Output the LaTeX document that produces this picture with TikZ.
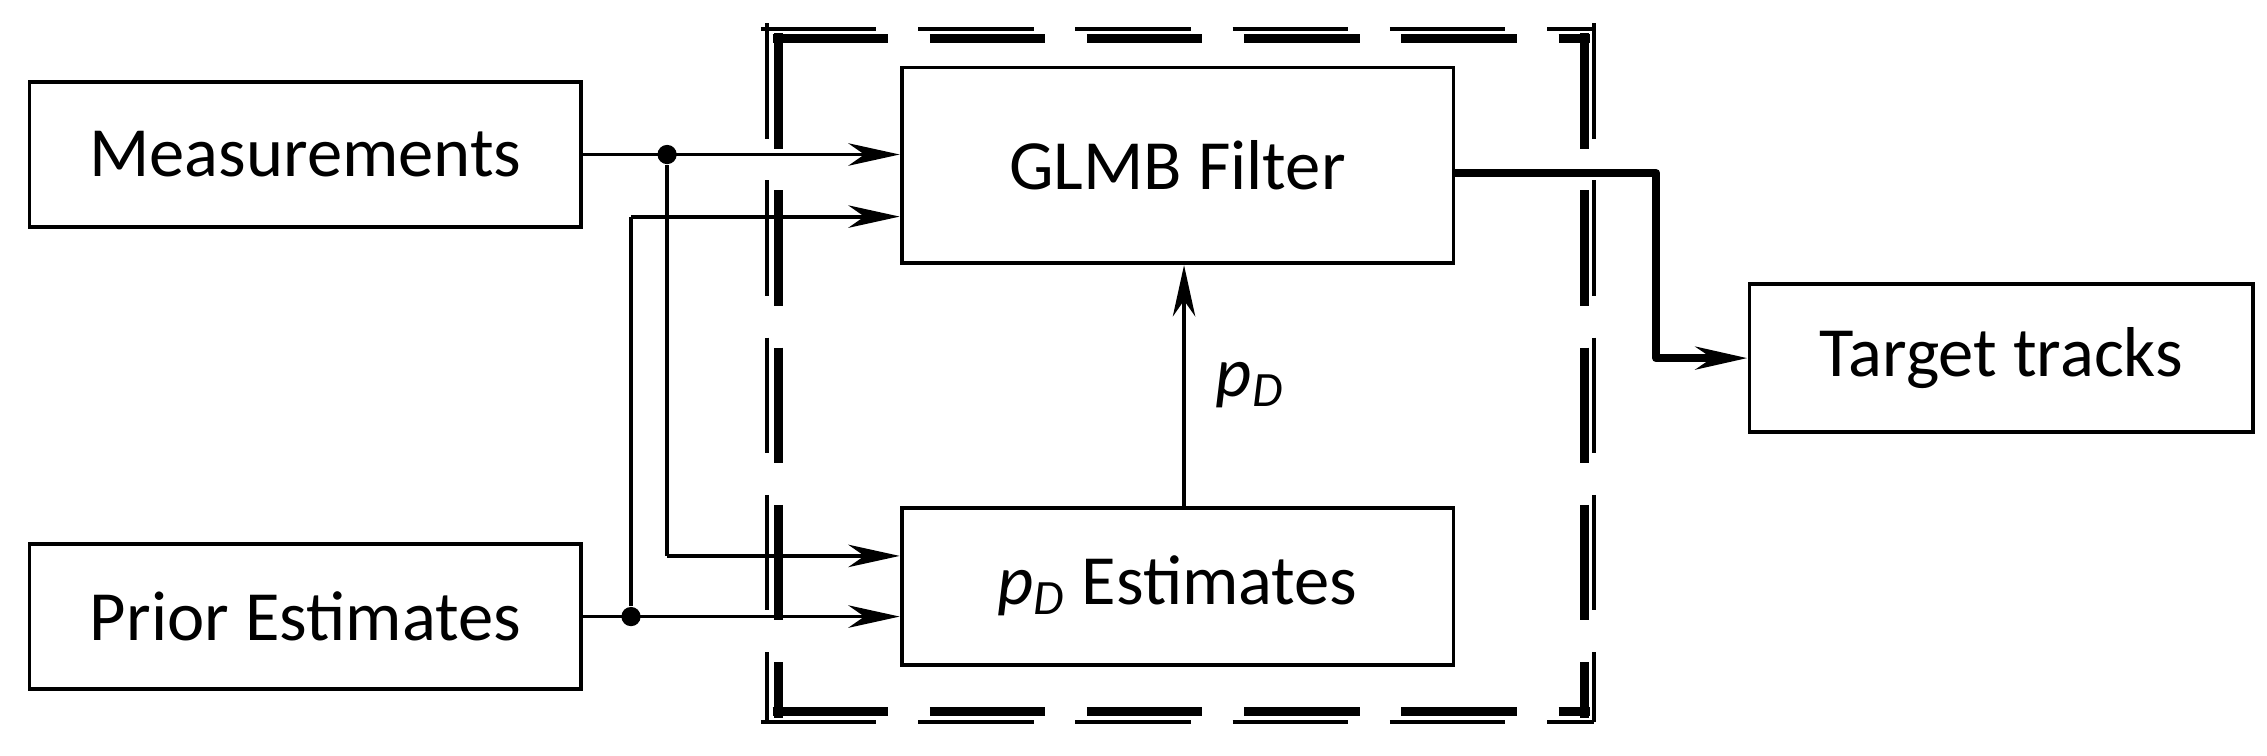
\documentclass[tikz,border=0pt]{standalone}
\usepackage{fontspec}
\setmainfont{Carlito}
\usetikzlibrary{arrows.meta}
\begin{document}
\begin{tikzpicture}[x=0.45pt,y=-0.45pt,
  box/.style={draw,line width=1.2pt,minimum width=172pt,inner sep=0pt,font=\fontsize{22}{25}\selectfont},
  ar/.style={line width=1.2pt,-{Stealth[length=16pt,width=7pt,inset=5pt]}},
  dot/.style={circle,fill,inner sep=0pt,minimum size=6pt},
  thk/.style={line width=2.8pt,dash pattern=on 36pt off 13pt},
  thn/.style={line width=1.2pt,dash pattern=on 36pt off 13pt}]
\useasboundingbox (0,0) rectangle (1570,523);
% frame, side by side so that thick and thin dashes line up
\draw[thk] (535,27) -- (1101,27);
\draw[thn] (527,20) -- (1104,20);
\draw[thk] (539,23) -- (539,497);
\draw[thn] (531,16) -- (531,500);
\draw[thk] (1097,23) -- (1097,497);
\draw[thn] (1104,16) -- (1104,500);
\draw[thk] (535,493) -- (1101,493);
\draw[thn] (527,500) -- (1104,500);
\node[box,minimum height=45pt] (meas) at (211.5,107) {Measurements};
\node[box,minimum height=45pt] (prior) at (211.5,427) {Prior Estimates};
\node[box,minimum height=61pt] (glmb) at (815.5,114.5) {GLMB Filter};
\node[box,minimum height=49pt] (pde) at (815.5,406) {$\mathit{p_D}$ Estimates};
\node[box,minimum width=157pt,minimum height=46pt] (tt) at (1386,248) {Target tracks};
\node[dot] (d1) at (462,107) {};
\node[dot] (d2) at (437,427) {};
\coordinate (c1) at (437,150);
\coordinate (c2) at (462,385);
\draw[ar] (meas.east) -- (glmb.west|-meas.east);
\draw[ar] (c1) -- (glmb.west|-c1);
\draw[line width=1.2pt] (d2) -- (c1);
\draw[line width=1.2pt] (d1) -- (c2);
\draw[ar] (c2) -- (pde.west|-c2);
\draw[ar] (prior.east) -- (pde.west|-prior.east);
\draw[ar] (pde.north-|820,0) -- node[right=6pt,font=\fontsize{22}{25}\selectfont]{$\mathit{p_D}$} (glmb.south-|820,0);
\coordinate (o1) at (1147,120);
\coordinate (o2) at (1147,248);
\draw[line width=2.6pt,line join=round,-{Stealth[length=16pt,width=7pt,inset=5pt]}] (glmb.east|-o1) -- (o1) -- (o2) -- (tt.west);
\end{tikzpicture}
\end{document}
